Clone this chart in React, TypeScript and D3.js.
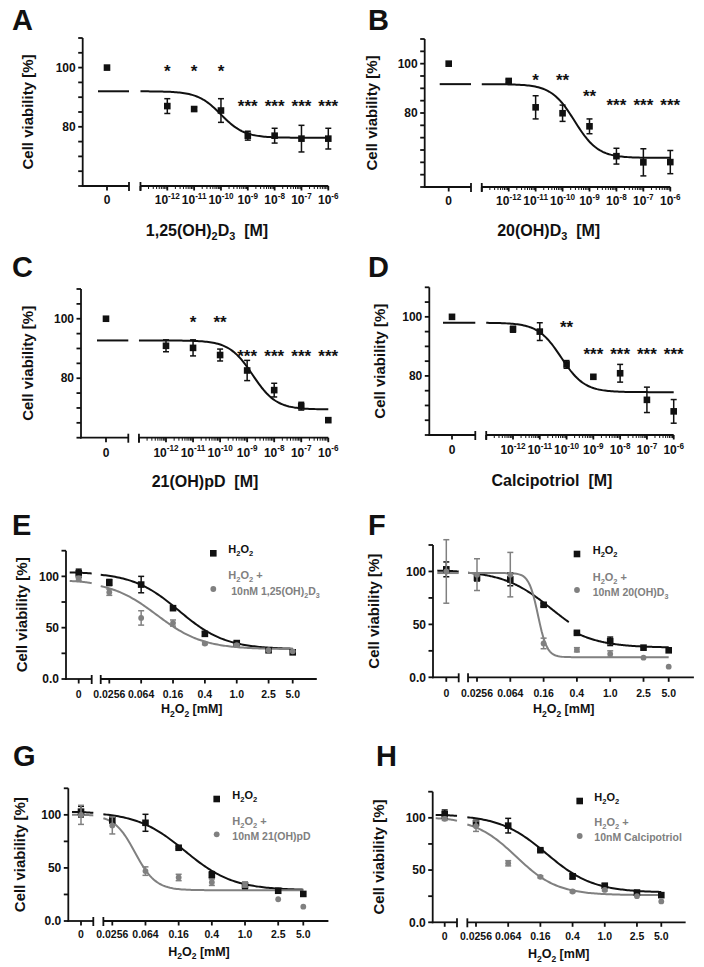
import React from 'react';
import * as d3 from 'd3';

const FONT = "'Liberation Sans', Arial, Helvetica, sans-serif";
const BLACK = '#111111';
const GRAY = '#808080';

// ---------------- Data: panels A–D (concentration in M) ----------------
const doseValues = [1e-12, 1e-11, 1e-10, 1e-9, 1e-8, 1e-7, 1e-6];
const doseTickExponents = ['-12', '-11', '-10', '-9', '-8', '-7', '-6'];

const aZero = 100;
const aMeans = [87, 86, 85.5, 77, 77, 76, 76];
const aErrors = [2.5, 0.6, 4, 1.5, 2.5, 4.5, 3.5];
const aStars = ['*', '*', '*', '***', '***', '***', '***'];
const aStarLevels = [100.3, 100.3, 100.3, 88.5, 88.5, 88.5, 88.5];
const aFit = [92, 76.3, 1e-10, 1]; // top, bottom, EC50, hill

const bZero = 100;
const bMeans = [93, 82.3, 79.9, 74.6, 62.5, 60, 60.1];
const bErrors = [0.6, 4.7, 3.3, 3, 3.2, 5.5, 4.7];
const bStars = ['', '*', '**', '**', '***', '***', '***'];
const bStarLevels = [0, 95.1, 95.1, 88.4, 84.7, 84.7, 84.7];
const bFit = [91.7, 61.8, 2.8e-10, 1];

const cZero = 100;
const cMeans = [90.9, 90.2, 87.8, 82.6, 76, 70.6, 65.9];
const cErrors = [2, 2.7, 2, 3.4, 2.3, 1.3, 0];
const cStars = ['', '*', '**', '***', '***', '***', '***'];
const cStarLevels = [0, 100.4, 100.4, 88.7, 88.7, 88.7, 88.7];
const cFit = [92.7, 69.5, 1.6e-9, 1];

const dZero = 100;
const dMeans = [95.8, 95, 83.9, 79.7, 80.9, 71.9, 68];
const dErrors = [1, 3, 1.3, 0, 3, 4.3, 4];
const dStars = ['', '', '**', '***', '***', '***', '***'];
const dStarLevels = [0, 0, 97.8, 88.7, 88.7, 88.7, 88.7];
const dFit = [98, 74.5, 6.3e-11, 1];

// ---------------- Data: panels E–H (H2O2 in mM) ----------------
const h2o2Values = [0.0256, 0.064, 0.16, 0.4, 1.0, 2.5, 5.0];
const h2o2Labels = ['0.0256', '0.064', '0.16', '0.4', '1.0', '2.5', '5.0'];

const eBlackZero = [103, 4];
const eBlackMeans = [94, 92, 69, 44, 35, 28, 26];
const eBlackErrors = [3, 8, 1.5, 2, 1.5, 0, 0];
const eBlackFit = [104, 29, 0.19, 1.5];
const eGrayZero = [98, 2];
const eGrayMeans = [84.5, 59.5, 54.5, 34.5, 33, 28, 27];
const eGrayErrors = [3, 7, 3, 1, 1, 0, 0];
const eGrayFit = [96, 29, 0.1, 1.5];

const fBlackZero = [102, 7];
const fBlackMeans = [94, 92.5, 68.5, 42, 34, 28, 25.5];
const fBlackErrors = [3, 6, 1.5, 1, 4, 0, 0];
const fBlackFit = [101, 28, 0.2, 1.5];
const fBlackFitTail = [101, 28, 0.15, 1.5];
const fGrayZero = [100, 30];
const fGrayMeans = [97, 97, 32, 26, 22, 18.5, 10];
const fGrayErrors = [15, 21, 5, 2, 3, 0, 0];
const fGrayFit = [98.5, 19, 0.137, 8];

const gBlackZero = [103, 5];
const gBlackMeans = [95, 92.5, 69, 43.5, 33.5, 28.5, 25.5];
const gBlackErrors = [3, 8, 1, 3, 3, 0, 0];
const gBlackFit = [103, 29, 0.19, 1.5];
const gGrayZero = [100, 9];
const gGrayMeans = [90, 47, 41, 36.5, 34, 20.5, 13.5];
const gGrayErrors = [8, 4, 3, 3, 2, 0, 0];
const gGrayFit = [100, 29, 0.048, 3.5];

const hBlackZero = [103.5, 4];
const hBlackMeans = [95, 92.5, 69, 44, 35, 28.5, 26];
const hBlackErrors = [2.5, 7, 1, 2.5, 2, 0, 0];
const hBlackFit = [103, 28.5, 0.19, 1.5];
const hGrayZero = [99, 1.5];
const hGrayMeans = [92, 56.5, 43.5, 29.5, 31, 25, 20];
const hGrayErrors = [5, 2.5, 1, 1, 1, 0, 0];
const hGrayFit = [100, 26, 0.08, 1.7];

// ---------------- Helpers ----------------
type Part = [string, string];

function fitValue(c: number, p: number[]) {
  const [top, bottom, ec50, hill] = p;
  return bottom + (top - bottom) / (1 + Math.pow(c / ec50, hill));
}

function Rich({ parts, x, y, size, anchor = 'start', color = BLACK, transform }: any) {
  let cur = 0;
  return (
    <text x={x} y={y} fontSize={size} textAnchor={anchor} fill={color} fontWeight="bold"
      fontFamily={FONT} style={{ whiteSpace: 'pre' }} transform={transform}>
      {parts.map(([t, kind]: Part, i: number) => {
        const target = kind === 'sub' ? size * 0.28 : kind === 'sup' ? -size * 0.42 : 0;
        const dy = target - cur;
        cur = target;
        return (
          <tspan key={i} dy={dy} fontSize={kind ? size * 0.68 : size}>{t}</tspan>
        );
      })}
    </text>
  );
}

function Marker({ kind, cx, cy, color }: any) {
  if (kind === 'square') {
    return <rect x={cx - 3.3} y={cy - 3.3} width={6.6} height={6.6} fill={color} />;
  }
  return <circle cx={cx} cy={cy} r={2.9} fill={color} />;
}

function ErrorBar({ x, y1, y2, color }: any) {
  return (
    <g stroke={color} strokeWidth={1.5}>
      <line x1={x} x2={x} y1={y1} y2={y2} />
      <line x1={x - 3} x2={x + 3} y1={y1} y2={y1} />
      <line x1={x - 3} x2={x + 3} y1={y2} y2={y2} />
    </g>
  );
}

function curvePath(fit: number[], range: number[], xs: (c: number) => number, ys: (v: number) => number) {
  const n = 120;
  const l0 = Math.log(range[0]);
  const l1 = Math.log(range[1]);
  const pts = d3.range(n + 1).map((i) => {
    const c = Math.exp(l0 + ((l1 - l0) * i) / n);
    return [xs(c), ys(fitValue(c, fit))] as [number, number];
  });
  return d3.line()(pts) || '';
}

const yLabelParts: Part[] = [['Cell viability [%]', '']];

// ---------------- Panel ----------------
function Panel({ cfg }: any) {
  const y = d3.scaleLinear().domain(cfg.yDomain).range([cfg.bottom, cfg.top]);
  const x = d3.scaleLog().domain(cfg.refDomain).range(cfg.refRange);
  const xLeft = d3.scaleLog().domain(cfg.zeroSegDomain).range([cfg.zeroX - 9, cfg.leftEnd]);
  const rStart = x(cfg.axisDomain[0]);
  const rEnd = x(cfg.axisDomain[1]);
  const yTicks = d3.range(cfg.yDomain[0], cfg.yDomain[1] + 0.01, cfg.yStep);
  const midY = (cfg.top + cfg.bottom) / 2;

  // log minor ticks for molar axis
  const minorTicks: number[] = [];
  const majorTicks: number[] = [];
  if (cfg.molar) {
    const e0 = Math.round(Math.log10(cfg.axisDomain[0]));
    const e1 = Math.round(Math.log10(cfg.axisDomain[1]));
    for (let e = e0; e <= e1; e++) {
      majorTicks.push(Math.pow(10, e));
      if (e < e1) for (let k = 2; k <= 9; k++) minorTicks.push(k * Math.pow(10, e));
    }
  } else {
    cfg.values.forEach((v: number) => majorTicks.push(v));
  }

  return (
    <g>
      {/* Panel letter */}
      <text x={cfg.letterX} y={cfg.letterY} fontSize={29} fontWeight="bold" fontFamily={FONT} fill={BLACK}>
        {cfg.letter}
      </text>

      {/* Y axis */}
      <g stroke={BLACK} strokeWidth={1.8}>
        <line x1={cfg.axisX} x2={cfg.axisX} y1={cfg.top} y2={cfg.bottom + 0.9} />
        {yTicks.map((t: number) => (
          <line key={t} x1={cfg.axisX - 4.5} x2={cfg.axisX} y1={y(t)} y2={y(t)} />
        ))}
      </g>
      {cfg.yLabels.map((t: number, i: number) => (
        <text key={t} x={cfg.axisX - 7} y={y(t) + 4.2} fontSize={12} fontWeight="bold"
          fontFamily={FONT} textAnchor="end" fill={BLACK}>{cfg.yLabelText[i]}</text>
      ))}
      <Rich parts={yLabelParts} x={cfg.yTitleX} y={midY} size={15} anchor="middle"
        transform={`rotate(-90 ${cfg.yTitleX} ${midY})`} />

      {/* X axis: zero segment */}
      <g stroke={BLACK} strokeWidth={1.8}>
        <line x1={cfg.axisX - 0.9} x2={cfg.leftEnd} y1={cfg.bottom} y2={cfg.bottom} />
        <line x1={cfg.leftEnd} x2={cfg.leftEnd} y1={cfg.bottom - 4} y2={cfg.bottom + 5} />
        <line x1={cfg.zeroX} x2={cfg.zeroX} y1={cfg.bottom} y2={cfg.bottom + 4.5} />
        {/* right segment */}
        <line x1={rStart} x2={rEnd} y1={cfg.bottom} y2={cfg.bottom} />
        <line x1={rStart} x2={rStart} y1={cfg.bottom - 4} y2={cfg.bottom + 5} />
        {majorTicks.map((t) => (
          <line key={'M' + t} x1={x(t)} x2={x(t)} y1={cfg.bottom} y2={cfg.bottom + 4.5} />
        ))}
      </g>
      <g stroke={BLACK} strokeWidth={1}>
        {minorTicks.map((t) => (
          <line key={'m' + t} x1={x(t)} x2={x(t)} y1={cfg.bottom} y2={cfg.bottom + 3} />
        ))}
      </g>
      <text x={cfg.zeroX} y={cfg.xLabelY} fontSize={cfg.molar ? 12 : 10.5} fontWeight="bold"
        fontFamily={FONT} textAnchor="middle" fill={BLACK}>0</text>
      {cfg.values.map((v: number, i: number) =>
        cfg.molar ? (
          <Rich key={v} parts={[['10', ''], [doseTickExponents[i], 'sup']]} x={x(v)} y={cfg.xLabelY}
            size={12} anchor="middle" />
        ) : (
          <text key={v} x={x(v)} y={cfg.xLabelY} fontSize={10.5} fontWeight="bold"
            fontFamily={FONT} textAnchor="middle" fill={BLACK}>{h2o2Labels[i]}</text>
        )
      )}
      <Rich parts={cfg.xTitle} x={cfg.xTitleX} y={cfg.xTitleY} size={cfg.xTitleSize} anchor="middle" />

      {/* Series */}
      {cfg.series.map((s: any, si: number) => (
        <g key={si}>
          {s.fits.map((f: any, fi: number) => (
            <path key={fi} d={curvePath(f.fit, f.range, x, y)} fill="none" stroke={s.color} strokeWidth={2} />
          ))}
          <path d={curvePath(s.fits[0].fit, cfg.zeroSegDomain, xLeft, y)} fill="none" stroke={s.color} strokeWidth={2} />
        </g>
      ))}
      {cfg.series.map((s: any, si: number) => (
        <g key={'p' + si}>
          {s.zeroErr > 0 && (
            <ErrorBar x={cfg.zeroX} y1={y(s.zero - s.zeroErr)} y2={y(s.zero + s.zeroErr)} color={s.color} />
          )}
          <Marker kind={s.marker} cx={cfg.zeroX} cy={y(s.zero)} color={s.color} />
          {cfg.values.map((v: number, i: number) => (
            <g key={v}>
              {s.errors[i] > 0 && (
                <ErrorBar x={x(v)} y1={y(s.means[i] - s.errors[i])} y2={y(s.means[i] + s.errors[i])} color={s.color} />
              )}
              <Marker kind={s.marker} cx={x(v)} cy={y(s.means[i])} color={s.color} />
            </g>
          ))}
        </g>
      ))}

      {/* Significance stars */}
      {cfg.stars &&
        cfg.stars.map((st: string, i: number) =>
          st ? (
            <text key={i} x={x(cfg.values[i])} y={y(cfg.starLevels[i]) + 10} fontSize={17}
              fontWeight="bold" fontFamily={FONT} textAnchor="middle" fill={BLACK}>{st}</text>
          ) : null
        )}

      {/* Legend */}
      {cfg.legend && (
        <g>
          <Marker kind="square" cx={cfg.legend.mx} cy={cfg.legend.sqY} color={BLACK} />
          <Marker kind="circle" cx={cfg.legend.mx} cy={cfg.legend.cY} color={GRAY} />
          <Rich parts={[['H', ''], ['2', 'sub'], ['O', ''], ['2', 'sub']]} x={cfg.legend.tx} y={cfg.legend.t1Y} size={11} />
          <Rich parts={[['H', ''], ['2', 'sub'], ['O', ''], ['2', 'sub'], [' +', '']]} x={cfg.legend.tx} y={cfg.legend.t2Y} size={11} color={GRAY} />
          <Rich parts={cfg.legend.treat} x={cfg.legend.tx} y={cfg.legend.t3Y} size={10.5} color={GRAY} />
        </g>
      )}
    </g>
  );
}

// ---------------- Layout ----------------
const molarAxis = [1e-13, 1e-6];
const molarZeroSeg = [1e-17, 1e-16];
const h2o2Axis = [0.02, 10];
const h2o2ZeroSeg = [0.004, 0.012];
const h2o2Title: Part[] = [['H', ''], ['2', 'sub'], ['O', ''], ['2', 'sub'], [' [mM]', '']];

function molarSeries(zero: number, means: number[], errors: number[], fit: number[]) {
  return [{ zero, zeroErr: 0, means, errors, marker: 'square', color: BLACK, fits: [{ fit, range: molarAxis }] }];
}

const topY = { yStep: 5, yLabels: [80, 100], yLabelText: ['80', '100'] };
const botY = { yDomain: [0, 125], yStep: 25, yLabels: [0, 50, 100], yLabelText: ['0.0', '50', '100'] };

const panels: any[] = [
  {
    letter: 'A', letterX: 12, letterY: 30, molar: true, ...topY, yDomain: [60, 110],
    axisX: 82.7, top: 38, bottom: 186, leftEnd: 129, zeroX: 107,
    refDomain: [1e-12, 1e-6], refRange: [167.3, 328.3], axisDomain: molarAxis, zeroSegDomain: molarZeroSeg,
    values: doseValues, xLabelY: 204, yTitleX: 33,
    xTitle: [['1,25(OH)', ''], ['2', 'sub'], ['D', ''], ['3', 'sub'], ['  [M]', '']], xTitleX: 207, xTitleY: 236, xTitleSize: 16,
    series: molarSeries(aZero, aMeans, aErrors, aFit), stars: aStars, starLevels: aStarLevels,
  },
  {
    letter: 'B', letterX: 368, letterY: 30, molar: true, ...topY, yDomain: [50, 110],
    axisX: 424.7, top: 39, bottom: 187, leftEnd: 471, zeroX: 448.7,
    refDomain: [1e-12, 1e-6], refRange: [508.7, 670.3], axisDomain: molarAxis, zeroSegDomain: molarZeroSeg,
    values: doseValues, xLabelY: 205, yTitleX: 377,
    xTitle: [['20(OH)D', ''], ['3', 'sub'], ['  [M]', '']], xTitleX: 548.7, xTitleY: 236, xTitleSize: 16,
    series: molarSeries(bZero, bMeans, bErrors, bFit), stars: bStars, starLevels: bStarLevels,
  },
  {
    letter: 'C', letterX: 12, letterY: 277, molar: true, ...topY, yDomain: [60, 110],
    axisX: 81, top: 289, bottom: 437.7, leftEnd: 128.3, zeroX: 106,
    refDomain: [1e-12, 1e-6], refRange: [166, 328.3], axisDomain: molarAxis, zeroSegDomain: molarZeroSeg,
    values: doseValues, xLabelY: 456.5, yTitleX: 33,
    xTitle: [['21(OH)pD  [M]', '']], xTitleX: 205, xTitleY: 487, xTitleSize: 16,
    series: molarSeries(cZero, cMeans, cErrors, cFit), stars: cStars, starLevels: cStarLevels,
  },
  {
    letter: 'D', letterX: 368, letterY: 277, molar: true, ...topY, yDomain: [60, 110],
    axisX: 429.3, top: 287.3, bottom: 435, leftEnd: 475.3, zeroX: 452,
    refDomain: [1e-12, 1e-6], refRange: [513, 673.7], axisDomain: molarAxis, zeroSegDomain: molarZeroSeg,
    values: doseValues, xLabelY: 454, yTitleX: 384.7,
    xTitle: [['Calcipotriol  [M]', '']], xTitleX: 552, xTitleY: 485.5, xTitleSize: 16,
    series: molarSeries(dZero, dMeans, dErrors, dFit), stars: dStars, starLevels: dStarLevels,
  },
  {
    letter: 'E', letterX: 12, letterY: 535, molar: false, ...botY,
    axisX: 66, top: 550.7, bottom: 679, leftEnd: 91.7, zeroX: 78.7,
    refDomain: [0.0256, 5], refRange: [109.3, 292.7], axisDomain: h2o2Axis, zeroSegDomain: h2o2ZeroSeg,
    values: h2o2Values, xLabelY: 697.5, yTitleX: 27,
    xTitle: h2o2Title, xTitleX: 191.7, xTitleY: 713, xTitleSize: 12.5,
    series: [
      { zero: eBlackZero[0], zeroErr: eBlackZero[1], means: eBlackMeans, errors: eBlackErrors, marker: 'square', color: BLACK, fits: [{ fit: eBlackFit, range: h2o2Axis.map((d, i) => (i ? 5 : d)) }] },
      { zero: eGrayZero[0], zeroErr: eGrayZero[1], means: eGrayMeans, errors: eGrayErrors, marker: 'circle', color: GRAY, fits: [{ fit: eGrayFit, range: [0.02, 5] }] },
    ],
    legend: { mx: 213.3, sqY: 553.3, cY: 589, tx: 228.3, t1Y: 553, t2Y: 579, t3Y: 595,
      treat: [[' 10nM 1,25(OH)', ''], ['2', 'sub'], ['D', ''], ['3', 'sub']] },
  },
  {
    letter: 'F', letterX: 368, letterY: 535, molar: false, ...botY,
    axisX: 433, top: 545, bottom: 677.3, leftEnd: 458.7, zeroX: 446.3,
    refDomain: [0.0256, 5], refRange: [477, 668.7], axisDomain: h2o2Axis, zeroSegDomain: h2o2ZeroSeg,
    values: h2o2Values, xLabelY: 697, yTitleX: 379,
    xTitle: h2o2Title, xTitleX: 563.7, xTitleY: 713, xTitleSize: 12.5,
    series: [
      { zero: fBlackZero[0], zeroErr: fBlackZero[1], means: fBlackMeans, errors: fBlackErrors, marker: 'square', color: BLACK,
        fits: [{ fit: fBlackFit, range: [0.02, 0.32] }, { fit: fBlackFitTail, range: [0.4, 5] }] },
      { zero: fGrayZero[0], zeroErr: fGrayZero[1], means: fGrayMeans, errors: fGrayErrors, marker: 'circle', color: GRAY, fits: [{ fit: fGrayFit, range: [0.02, 5] }] },
    ],
    legend: { mx: 577, sqY: 554, cY: 590, tx: 592.7, t1Y: 554, t2Y: 580.7, t3Y: 595.7,
      treat: [['10nM 20(OH)D', ''], ['3', 'sub']] },
  },
  {
    letter: 'G', letterX: 13, letterY: 766, molar: false, ...botY,
    axisX: 68.3, top: 788.3, bottom: 921, leftEnd: 93.3, zeroX: 81,
    refDomain: [0.0256, 5], refRange: [112.3, 303.3], axisDomain: h2o2Axis, zeroSegDomain: h2o2ZeroSeg,
    values: h2o2Values, xLabelY: 937.5, yTitleX: 25,
    xTitle: h2o2Title, xTitleX: 199, xTitleY: 955.5, xTitleSize: 12.5,
    series: [
      { zero: gBlackZero[0], zeroErr: gBlackZero[1], means: gBlackMeans, errors: gBlackErrors, marker: 'square', color: BLACK, fits: [{ fit: gBlackFit, range: [0.02, 5] }] },
      { zero: gGrayZero[0], zeroErr: gGrayZero[1], means: gGrayMeans, errors: gGrayErrors, marker: 'circle', color: GRAY, fits: [{ fit: gGrayFit, range: [0.02, 5] }] },
    ],
    legend: { mx: 216.7, sqY: 799, cY: 834.3, tx: 232.3, t1Y: 799, t2Y: 825, t3Y: 840,
      treat: [['10nM 21(OH)pD', '']] },
  },
  {
    letter: 'H', letterX: 376, letterY: 766, molar: false, ...botY,
    axisX: 432.7, top: 791.7, bottom: 922.3, leftEnd: 457, zeroX: 444.7,
    refDomain: [0.0256, 5], refRange: [476, 661.3], axisDomain: h2o2Axis, zeroSegDomain: h2o2ZeroSeg,
    values: h2o2Values, xLabelY: 940, yTitleX: 384,
    xTitle: h2o2Title, xTitleX: 558.7, xTitleY: 958, xTitleSize: 12.5,
    series: [
      { zero: hBlackZero[0], zeroErr: hBlackZero[1], means: hBlackMeans, errors: hBlackErrors, marker: 'square', color: BLACK, fits: [{ fit: hBlackFit, range: [0.02, 5] }] },
      { zero: hGrayZero[0], zeroErr: hGrayZero[1], means: hGrayMeans, errors: hGrayErrors, marker: 'circle', color: GRAY, fits: [{ fit: hGrayFit, range: [0.02, 5] }] },
    ],
    legend: { mx: 579.7, sqY: 801, cY: 836, tx: 594.3, t1Y: 801.3, t2Y: 825.7, t3Y: 841.3,
      treat: [['10nM Calcipotriol', '']] },
  },
];

export default function App() {
  return (
    <svg width={704} height={967} viewBox="0 0 704 967"
      style={{ position: 'absolute', left: 0, top: 0, background: '#ffffff' }}>
      <rect x={0} y={0} width={704} height={967} fill="#ffffff" />
      {panels.map((p) => (
        <Panel key={p.letter} cfg={p} />
      ))}
    </svg>
  );
}
